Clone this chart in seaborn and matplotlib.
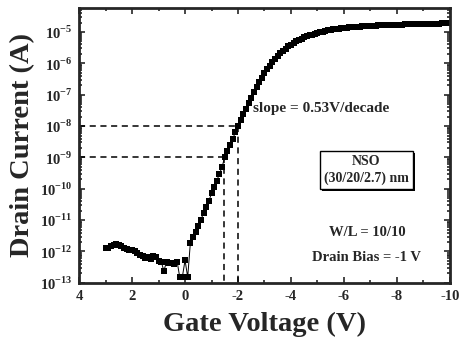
import numpy as np
import pandas as pd
import matplotlib
matplotlib.use('Agg')
import matplotlib.pyplot as plt
import matplotlib.patheffects as pe
from matplotlib.ticker import FixedLocator, MultipleLocator, NullFormatter
import seaborn as sns

# Gate voltage sweep (V), 0.1 V steps
gate_voltage = [
    3.0, 2.9, 2.8, 2.7, 2.6, 2.5, 2.4, 2.3, 2.2, 2.1,
    2.0, 1.9, 1.8, 1.7, 1.6, 1.5, 1.4, 1.3, 1.2, 1.1,
    1.0, 0.9, 0.8, 0.7, 0.6, 0.5, 0.4, 0.3, 0.2, 0.1,
    0.0, -0.1, -0.2, -0.3, -0.4, -0.5, -0.6, -0.7, -0.8, -0.9,
    -1.0, -1.1, -1.2, -1.3, -1.4, -1.5, -1.6, -1.7, -1.8, -1.9,
    -2.0, -2.1, -2.2, -2.3, -2.4, -2.5, -2.6, -2.7, -2.8, -2.9,
    -3.0, -3.1, -3.2, -3.3, -3.4, -3.5, -3.6, -3.7, -3.8, -3.9,
    -4.0, -4.1, -4.2, -4.3, -4.4, -4.5, -4.6, -4.7, -4.8, -4.9,
    -5.0, -5.1, -5.2, -5.3, -5.4, -5.5, -5.6, -5.7, -5.8, -5.9,
    -6.0, -6.1, -6.2, -6.3, -6.4, -6.5, -6.6, -6.7, -6.8, -6.9,
    -7.0, -7.1, -7.2, -7.3, -7.4, -7.5, -7.6, -7.7, -7.8, -7.9,
    -8.0, -8.1, -8.2, -8.3, -8.4, -8.5, -8.6, -8.7, -8.8, -8.9,
    -9.0, -9.1, -9.2, -9.3, -9.4, -9.5, -9.6, -9.7, -9.8, -9.9,
    -10.0,
]

# log10 of drain current (A)
log_current = [
    -11.90, -11.88, -11.84, -11.80, -11.76, -11.80, -11.82, -11.88, -11.92, -11.95,
    -11.96, -12.00, -12.05, -12.10, -12.15, -12.22, -12.18, -12.25, -12.15, -12.18,
    -12.30, -12.32, -12.62, -12.33, -12.38, -12.36, -12.40, -12.32, -12.82, -12.80,
    -12.28, -12.82, -11.73, -11.55, -11.38, -11.20, -10.98, -10.78, -10.58, -10.38,
    -10.15, -9.95, -9.74, -9.52, -9.30, -8.98, -8.79, -8.60, -8.41, -8.20,
    -8.00, -7.80, -7.62, -7.44, -7.26, -7.09, -6.92, -6.76, -6.61, -6.46,
    -6.32, -6.19, -6.07, -5.96, -5.86, -5.77, -5.68, -5.60, -5.53, -5.46,
    -5.40, -5.35, -5.30, -5.25, -5.21, -5.17, -5.14, -5.11, -5.08, -5.05,
    -5.03, -5.01, -4.99, -4.97, -4.95, -4.93, -4.92, -4.91, -4.90, -4.88,
    -4.87, -4.86, -4.85, -4.85, -4.84, -4.83, -4.83, -4.82, -4.82, -4.81,
    -4.80, -4.80, -4.80, -4.79, -4.79, -4.79, -4.78, -4.78, -4.78, -4.77,
    -4.77, -4.77, -4.77, -4.76, -4.76, -4.76, -4.75, -4.75, -4.75, -4.74,
    -4.74, -4.74, -4.74, -4.73, -4.73, -4.73, -4.73, -4.72, -4.72, -4.72,
    -4.72,
]

# subthreshold slope guide lines
guide_current = [1e-9, 1e-8]
guide_voltage = [-1.47, -2.0]

x_ticks = [4, 2, 0, -2, -4, -6, -8, -10]
y_decades = [-13, -12, -11, -10, -9, -8, -7, -6, -5]

df = pd.DataFrame({'Vg': gate_voltage, 'Id': [10 ** v for v in log_current]})

sns.set_style('ticks')
plt.rcParams['font.family'] = ['Liberation Serif', 'DejaVu Serif']
plt.rcParams['font.weight'] = 'bold'
plt.rcParams['mathtext.fontset'] = 'custom'
plt.rcParams['mathtext.rm'] = 'Liberation Serif:bold'
plt.rcParams['mathtext.bf'] = 'Liberation Serif:bold'

fig = plt.figure(figsize=(4.6, 3.42), dpi=100)
ax = fig.add_axes([0.172, 0.173, 0.806, 0.804])

sns.lineplot(data=df, x='Vg', y='Id', color='black', marker='s', markersize=3.8,
             markeredgewidth=0, linewidth=0.7, ax=ax)

ax.set_yscale('log')
ax.set_xlim(4, -10)
ax.set_ylim(1e-13, 10 ** -4.23)

# dashed guide lines
xmin = ax.get_xlim()[0]
ymin = ax.get_ylim()[0]
for vg, idd in zip(guide_voltage, guide_current):
    ax.plot([xmin, vg], [idd, idd], color='black', ls=(0, (4, 3)), lw=1.1)
    ax.plot([vg, vg], [idd, ymin], color='black', ls=(0, (4, 3)), lw=1.1)

# ticks
ax.xaxis.set_major_locator(FixedLocator(x_ticks))
ax.xaxis.set_minor_locator(MultipleLocator(1))
ax.set_xticklabels([str(t) if t >= 0 else '-' + str(-t) for t in x_ticks])
ax.yaxis.set_major_locator(FixedLocator([10.0 ** d for d in y_decades]))
ax.set_yticklabels([r'$10^{%d}$' % d for d in y_decades])
ax.yaxis.set_minor_formatter(NullFormatter())
ax.tick_params(which='both', direction='in', top=True, right=True, width=1.2)
ax.tick_params(which='major', length=4, labelsize=10.5, pad=5)
ax.tick_params(which='minor', length=2)
for lbl in ax.get_xticklabels() + ax.get_yticklabels():
    lbl.set_fontweight('bold')

for s in ax.spines.values():
    s.set_linewidth(2.0)

ax.set_xlabel('Gate Voltage (V)', fontsize=20.5, fontweight='bold')
ax.set_ylabel('Drain Current (A)', fontsize=20.5, fontweight='bold')
ax.xaxis.set_label_coords(0.5, -0.105)
ax.yaxis.set_label_coords(-0.12, 0.5)

# annotations
ax.text(-2.57, 10 ** -7.43, 'slope = 0.53V/decade', fontsize=11, fontweight='bold',
        ha='left', va='center')
box = ax.text(-6.85, 10 ** -9.4, 'NSO\n(30/20/2.7) nm', fontsize=10, fontweight='bold',
              ha='center', va='center', multialignment='center', linespacing=1.3,
              bbox=dict(boxstyle='square,pad=0.3', fc='white', ec='black', lw=1.0))
box.get_bbox_patch().set_path_effects([pe.SimplePatchShadow(offset=(1.5, -1.5), shadow_rgbFace='black', alpha=1.0), pe.Normal()])
ax.text(-6.9, 10 ** -11.4, 'W/L = 10/10', fontsize=10.5, fontweight='bold', ha='center', va='center')
ax.text(-6.85, 10 ** -12.2, 'Drain Bias = -1 V', fontsize=10.5, fontweight='bold', ha='center', va='center')

fig.savefig('out.png', dpi=100)
